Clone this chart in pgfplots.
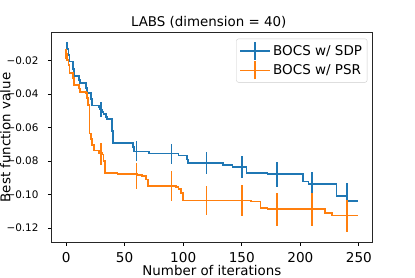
\documentclass[border=0pt]{standalone}
\usepackage{pgfplots}
\pgfplotsset{compat=1.18}
\usepackage{fontspec}
\setmainfont{DejaVu Sans}
\definecolor{c0}{RGB}{31,119,180}
\definecolor{c1}{RGB}{255,127,14}
\begin{document}
\begin{tikzpicture}
\path[use as bounding box] (-51.5pt,-34.7pt) rectangle (363.5pt,242.3pt);
\begin{axis}[
  at={(0pt,0pt)}, anchor=south west, clip=false,
  scale only axis, width=320.8pt, height=209.6pt,
  xmin=-12.45, xmax=261.45, ymin=-0.1285, ymax=-0.0033,
  axis line style={black!85, line width=0.8pt},
  tick align=outside, xtick pos=bottom, ytick pos=left,
  major tick length=3.5pt,
  tick style={black, line width=0.8pt},
  xtick={0,50,100,150,200,250},
  xticklabels={0,50,100,150,200,250},
  ytick={-0.12,-0.10,-0.08,-0.06,-0.04,-0.02},
  yticklabels={−0.12,−0.10,−0.08,−0.06,−0.04,−0.02},
  xticklabel style={font=\fontsize{13.6}{16}\selectfont, anchor=base, yshift=-16.5pt, inner sep=0pt, text height=10pt, text depth=0pt},
  yticklabel style={font=\fontsize{10.4}{12}\selectfont, anchor=east, xshift=-6pt},
  xlabel={\fontsize{13.4}{16}\selectfont Number of iterations},
  xlabel style={at={(axis description cs:0.5,0)}, anchor=base, yshift=-33pt, inner sep=0pt, text height=9.8pt, text depth=0pt},
  ylabel={\fontsize{13.4}{16}\selectfont Best function value},
  ylabel style={at={(axis description cs:0,0.5)}, anchor=base, yshift=41pt},
  legend style={at={(1,1)}, anchor=north east, xshift=-5pt, yshift=-6pt,
    draw=black!20, rounded corners=2pt, fill=white,
    font=\fontsize{13.5}{16}\selectfont},
  legend cell align=left,
  legend image code/.code={
    \draw[#1, line width=1.7pt] (0pt,0pt) -- (30pt,0pt);
    \draw[#1, line width=1.7pt] (15pt,-9pt) -- (15pt,9pt);
  },
]
\node[anchor=base, font=\fontsize{13.4}{16}\selectfont] at ([yshift=6.5pt]rel axis cs:0.49,1) {LABS (dimension = 40)};
% SDP line
\addplot[color=c0, line width=1.7pt, const plot] coordinates {
(0,-0.0094)(1,-0.013)(2,-0.0165)(3,-0.0205)(6,-0.025)(7,-0.029)(11,-0.0315)(12,-0.0335)
(17,-0.0365)(18,-0.0395)(21,-0.043)(22,-0.0468)(28,-0.0475)(29,-0.0492)(31,-0.0505)
(32,-0.052)(34,-0.0535)(35,-0.055)(39,-0.062)(40,-0.0690)(57,-0.0715)(58,-0.0742)
(71,-0.0754)(96,-0.0766)(103,-0.0790)(104,-0.0810)(134,-0.0822)(142,-0.0835)
(154,-0.0871)(172,-0.0877)(202,-0.0921)(207,-0.0935)(231,-0.1008)(240,-0.1038)(249,-0.1038)
};
\addlegendentry{BOCS w/ SDP}
\addplot[color=c0, line width=1.7pt, only marks, mark=*, mark size=0pt, forget plot,
  error bars/.cd, y dir=both, y explicit, error mark=none,
  error bar style={line width=1.7pt}] coordinates {
(30,-0.0493) +- (0,0.0044)
(60,-0.0742) +- (0,0.0060)
(90,-0.0757) +- (0,0.0061)
(120,-0.0810) +- (0,0.0067)
(150,-0.0835) +- (0,0.0067)
(180,-0.0880) +- (0,0.0072)
(210,-0.0928) +- (0,0.0063)
(240,-0.1020) +- (0,0.0090)
};
% PSR line
\addplot[color=c1, line width=1.7pt, const plot] coordinates {
(0,-0.0160)(1,-0.0194)(2,-0.0224)(3,-0.0274)(6,-0.0304)(7,-0.0344)(11,-0.0367)(12,-0.0387)
(17,-0.0395)(18,-0.0423)(19,-0.0463)(20,-0.0635)(21,-0.067)(22,-0.0702)(24,-0.0736)
(28,-0.0752)(31,-0.0760)(32,-0.0800)(33,-0.0870)(44,-0.0875)(61,-0.0885)(65,-0.0891)
(68,-0.0910)(70,-0.0947)(94,-0.0955)(96,-0.0967)(98,-0.0990)(100,-0.1035)(158,-0.1041)
(166,-0.1082)(172,-0.1087)(221,-0.1110)(227,-0.1125)(249,-0.1125)
};
\addlegendentry{BOCS w/ PSR}
\addplot[color=c1, line width=1.7pt, only marks, mark=*, mark size=0pt, forget plot,
  error bars/.cd, y dir=both, y explicit, error mark=none,
  error bar style={line width=1.7pt}] coordinates {
(0,-0.0160) +- (0,0.0032)
(30,-0.0757) +- (0,0.0065)
(60,-0.0890) +- (0,0.0078)
(90,-0.0947) +- (0,0.0090)
(120,-0.1035) +- (0,0.0089)
(150,-0.1035) +- (0,0.0090)
(180,-0.1088) +- (0,0.0098)
(210,-0.1090) +- (0,0.0100)
(240,-0.1128) +- (0,0.0098)
};
\end{axis}
\end{tikzpicture}
\end{document}
